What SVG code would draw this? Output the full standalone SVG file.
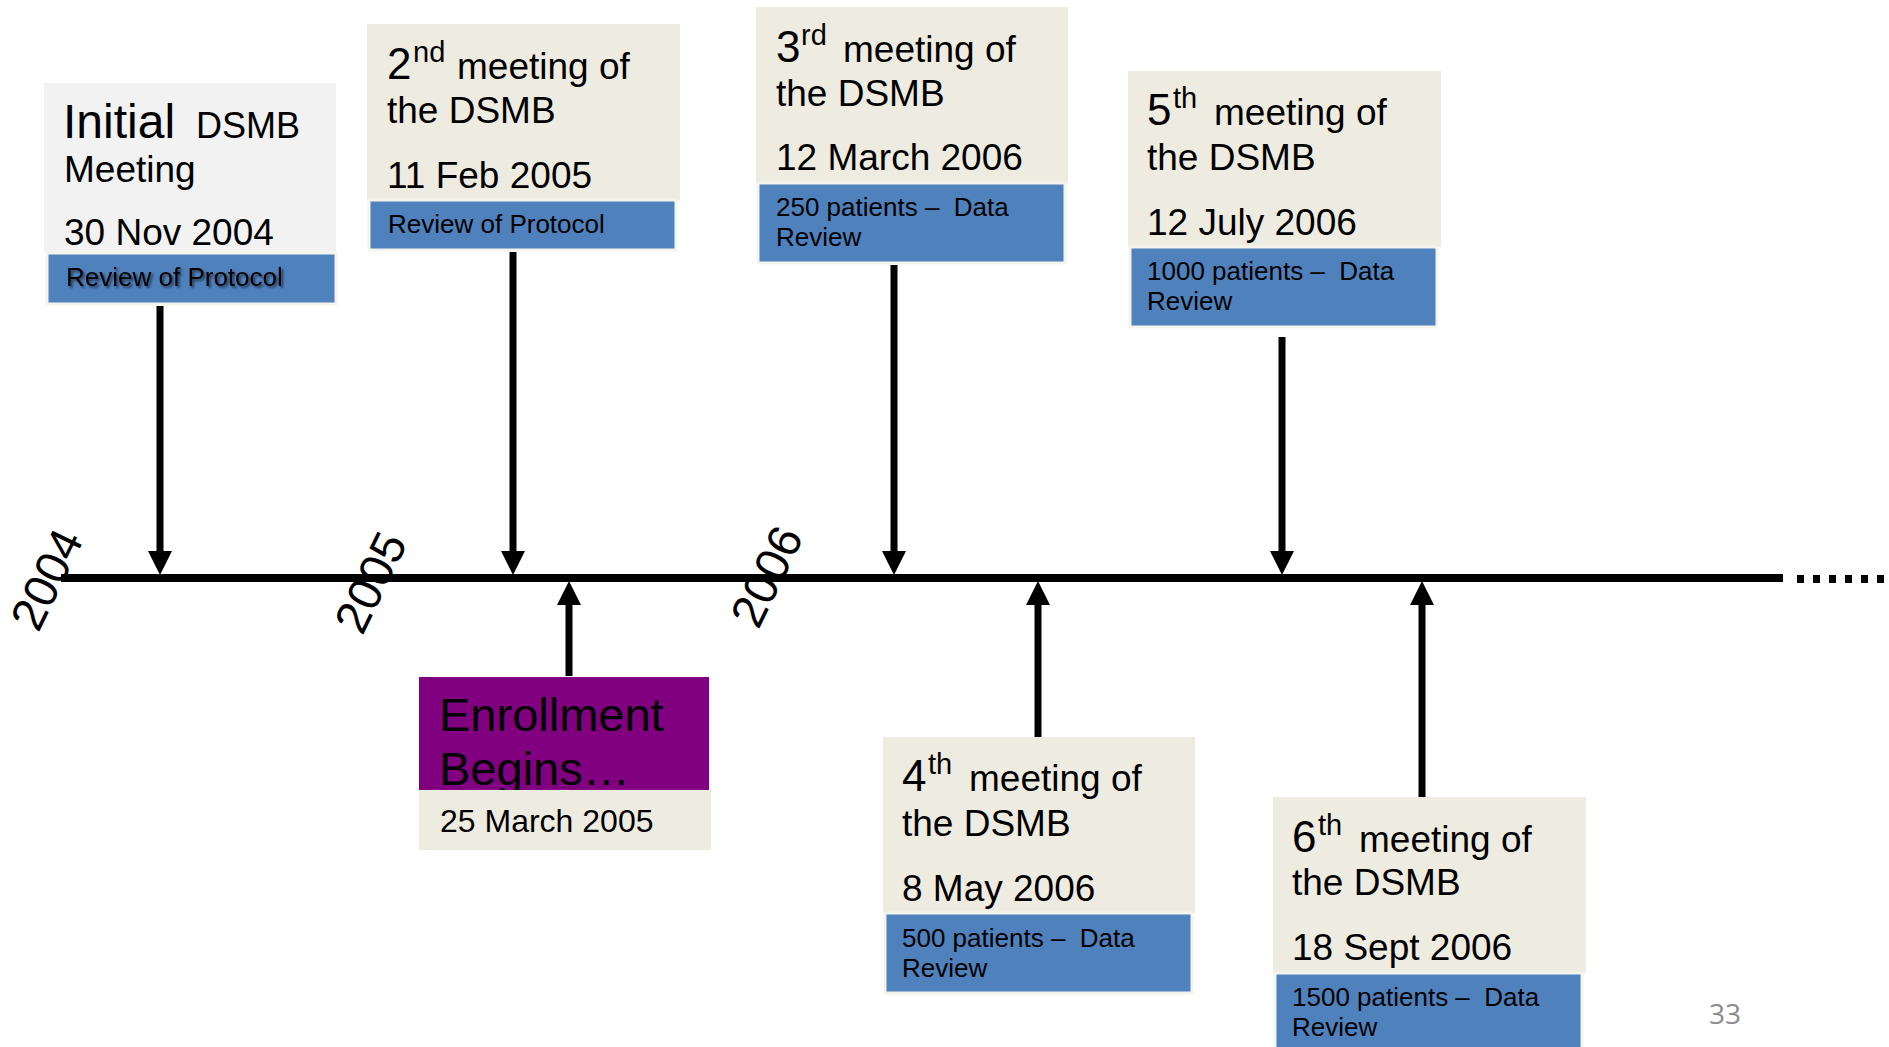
<svg xmlns="http://www.w3.org/2000/svg" width="1889" height="1047" viewBox="0 0 1889 1047">
<style>
text{font-family:"Liberation Sans",Arial,sans-serif;fill:#000}
.beige{fill:#EEECE1}
.gray{fill:#F2F2F2}
.blue{fill:#4F81BD;stroke:#F4F3EC;stroke-width:3}
.purple{fill:#800080}
.t{font-size:37px}
.d{font-size:44px}
.s{font-size:29px}
.b{font-size:26px}
.yr{font-size:47px}
.conn{stroke:#000;stroke-width:7;fill:none}
</style>
<defs>
<marker id="ah" markerUnits="userSpaceOnUse" markerWidth="24" markerHeight="24" viewBox="0 0 24 24" refX="12" refY="12" orient="auto">
<path d="M0,0 L24,12 L0,24 Z" fill="#000"/>
</marker>
<filter id="sh" x="-10%" y="-30%" width="120%" height="160%">
<feDropShadow dx="2" dy="2" stdDeviation="1.2" flood-color="#000" flood-opacity="0.55"/>
</filter>
</defs>

<g id="timeline">
<line x1="61" y1="578" x2="1783" y2="578" stroke="#000" stroke-width="8"/>
<line x1="1797" y1="579" x2="1889" y2="579" stroke="#000" stroke-width="8" stroke-dasharray="7 9"/>
<text class="yr" x="0" y="17" text-anchor="middle" transform="translate(46,579) rotate(-64)">2004</text>
<text class="yr" x="0" y="17" text-anchor="middle" transform="translate(370,582) rotate(-64)">2005</text>
<text class="yr" x="0" y="17" text-anchor="middle" transform="translate(766,576) rotate(-64)">2006</text>
</g>

<g id="connectors">
<line class="conn" x1="160" y1="306" x2="160" y2="563" marker-end="url(#ah)"/>
<line class="conn" x1="513" y1="252" x2="513" y2="563" marker-end="url(#ah)"/>
<line class="conn" x1="894" y1="265" x2="894" y2="563" marker-end="url(#ah)"/>
<line class="conn" x1="1282" y1="337" x2="1282" y2="563" marker-end="url(#ah)"/>
<line class="conn" x1="569" y1="676" x2="569" y2="593" marker-end="url(#ah)"/>
<line class="conn" x1="1038" y1="737" x2="1038" y2="593" marker-end="url(#ah)"/>
<line class="conn" x1="1422" y1="797" x2="1422" y2="593" marker-end="url(#ah)"/>
</g>

<g id="initial-meeting">
<rect class="gray" x="44" y="83" width="292" height="170"/>
<rect class="blue" x="47" y="253" width="289" height="51"/>
<text x="63" y="138" font-size="48">Initial</text>
<text x="196" y="138" font-size="36">DSMB</text>
<text class="t" x="64" y="182">Meeting</text>
<text class="t" x="64" y="245">30 Nov 2004</text>
<text class="b" x="66" y="286" filter="url(#sh)">Review of Protocol</text>
</g>

<g id="meeting-2">
<rect class="beige" x="367" y="24" width="313" height="176"/>
<rect class="blue" x="369" y="200" width="307" height="50"/>
<text class="d" x="387" y="79">2</text>
<text class="s" x="413" y="62">nd</text>
<text class="t" x="457" y="79">meeting of</text>
<text class="t" x="387" y="123">the DSMB</text>
<text class="t" x="387" y="188">11 Feb 2005</text>
<text class="b" x="388" y="233">Review of Protocol</text>
</g>

<g id="meeting-3">
<rect class="beige" x="756" y="7" width="312" height="176"/>
<rect class="blue" x="758" y="183" width="307" height="80"/>
<text class="d" x="776" y="62">3</text>
<text class="s" x="801" y="45">rd</text>
<text class="t" x="843" y="62">meeting of</text>
<text class="t" x="776" y="106">the DSMB</text>
<text class="t" x="776" y="170">12 March 2006</text>
<text class="b" x="776" y="216" xml:space="preserve">250 patients –  Data</text>
<text class="b" x="776" y="246">Review</text>
</g>

<g id="meeting-5">
<rect class="beige" x="1128" y="71" width="313" height="176"/>
<rect class="blue" x="1130" y="247" width="307" height="80"/>
<text class="d" x="1147" y="125">5</text>
<text class="s" x="1173" y="108">th</text>
<text class="t" x="1214" y="125">meeting of</text>
<text class="t" x="1147" y="170">the DSMB</text>
<text class="t" x="1147" y="235">12 July 2006</text>
<text class="b" x="1147" y="280" xml:space="preserve">1000 patients –  Data</text>
<text class="b" x="1147" y="310">Review</text>
</g>

<g id="enrollment">
<rect class="purple" x="419" y="677" width="290" height="113"/>
<text x="439" y="731" font-size="47">Enrollment</text>
<text x="439" y="785" font-size="47">Begins…</text>
<rect class="beige" x="419" y="790" width="292" height="60"/>
<text x="440" y="832" font-size="32">25 March 2005</text>
</g>

<g id="meeting-4">
<rect class="beige" x="883" y="737" width="312" height="176"/>
<rect class="blue" x="885" y="913" width="307" height="80"/>
<text class="d" x="902" y="791">4</text>
<text class="s" x="928" y="774">th</text>
<text class="t" x="969" y="791">meeting of</text>
<text class="t" x="902" y="836">the DSMB</text>
<text class="t" x="902" y="901">8 May 2006</text>
<text class="b" x="902" y="947" xml:space="preserve">500 patients –  Data</text>
<text class="b" x="902" y="977">Review</text>
</g>

<g id="meeting-6">
<rect class="beige" x="1273" y="797" width="313" height="176"/>
<rect class="blue" x="1275" y="973" width="307" height="80"/>
<text class="d" x="1292" y="852">6</text>
<text class="s" x="1318" y="835">th</text>
<text class="t" x="1359" y="852">meeting of</text>
<text class="t" x="1292" y="895">the DSMB</text>
<text class="t" x="1292" y="960">18 Sept 2006</text>
<text class="b" x="1292" y="1006" xml:space="preserve">1500 patients –  Data</text>
<text class="b" x="1292" y="1036">Review</text>
</g>

<text x="1709" y="1024" font-size="28" style="font-family:'Open Sans',sans-serif;fill:#8C8C8C">33</text>
</svg>
